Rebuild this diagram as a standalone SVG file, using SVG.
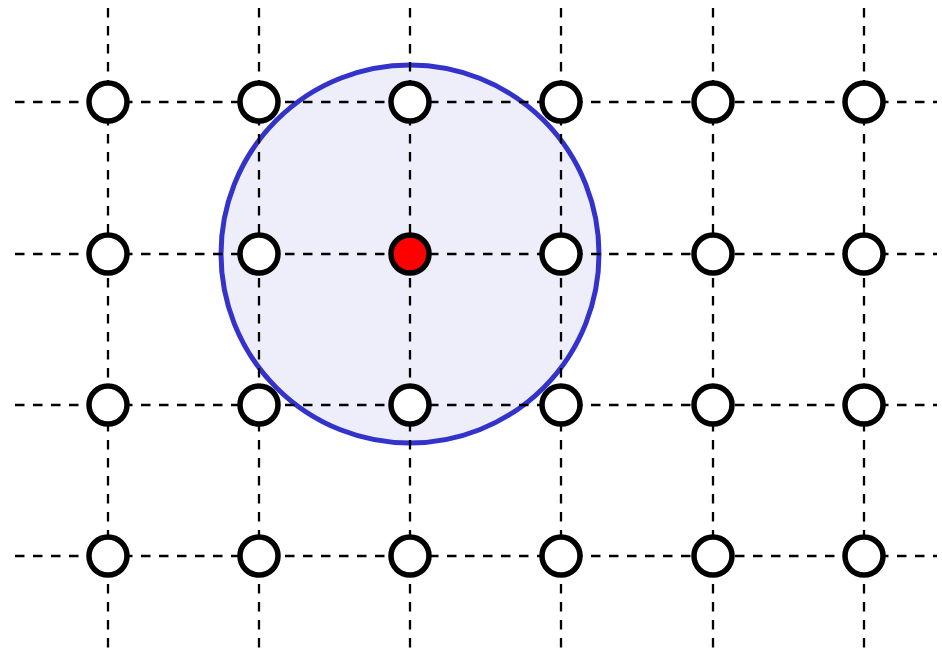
<svg xmlns="http://www.w3.org/2000/svg" width="942" height="654" viewBox="0 0 942 654">
<style>
.g{stroke:#000;stroke-width:2.3;stroke-dasharray:9.5,8.5;fill:none}
.n{fill:#fff;stroke:#000;stroke-width:5.5}
</style>
<rect width="942" height="654" fill="#fff"/>
<g id="region"><circle cx="410" cy="254" r="189" fill="#eeeefa" stroke="#3333cc" stroke-width="5"/></g>
<g id="connectors">
<line class="g" x1="15" y1="102" x2="937" y2="102"/>
<line class="g" x1="15" y1="254" x2="937" y2="254"/>
<line class="g" x1="15" y1="405" x2="937" y2="405"/>
<line class="g" x1="15" y1="556" x2="937" y2="556"/>
<line class="g" x1="108" y1="8" x2="108" y2="652"/>
<line class="g" x1="259" y1="8" x2="259" y2="652"/>
<line class="g" x1="410" y1="8" x2="410" y2="652"/>
<line class="g" x1="561" y1="8" x2="561" y2="652"/>
<line class="g" x1="713" y1="8" x2="713" y2="652"/>
<line class="g" x1="864" y1="8" x2="864" y2="652"/>
</g>
<g id="n00"><circle class="n" cx="108" cy="102" r="19"/></g>
<g id="n01"><circle class="n" cx="259" cy="102" r="19"/></g>
<g id="n02"><circle class="n" cx="410" cy="102" r="19"/></g>
<g id="n03"><circle class="n" cx="561" cy="102" r="19"/></g>
<g id="n04"><circle class="n" cx="713" cy="102" r="19"/></g>
<g id="n05"><circle class="n" cx="864" cy="102" r="19"/></g>
<g id="n10"><circle class="n" cx="108" cy="254" r="19"/></g>
<g id="n11"><circle class="n" cx="259" cy="254" r="19"/></g>
<g id="n12"><circle cx="410" cy="254" r="19" fill="#ff0000" stroke="#000" stroke-width="5.5"/></g>
<g id="n13"><circle class="n" cx="561" cy="254" r="19"/></g>
<g id="n14"><circle class="n" cx="713" cy="254" r="19"/></g>
<g id="n15"><circle class="n" cx="864" cy="254" r="19"/></g>
<g id="n20"><circle class="n" cx="108" cy="405" r="19"/></g>
<g id="n21"><circle class="n" cx="259" cy="405" r="19"/></g>
<g id="n22"><circle class="n" cx="410" cy="405" r="19"/></g>
<g id="n23"><circle class="n" cx="561" cy="405" r="19"/></g>
<g id="n24"><circle class="n" cx="713" cy="405" r="19"/></g>
<g id="n25"><circle class="n" cx="864" cy="405" r="19"/></g>
<g id="n30"><circle class="n" cx="108" cy="556" r="19"/></g>
<g id="n31"><circle class="n" cx="259" cy="556" r="19"/></g>
<g id="n32"><circle class="n" cx="410" cy="556" r="19"/></g>
<g id="n33"><circle class="n" cx="561" cy="556" r="19"/></g>
<g id="n34"><circle class="n" cx="713" cy="556" r="19"/></g>
<g id="n35"><circle class="n" cx="864" cy="556" r="19"/></g>
</svg>
